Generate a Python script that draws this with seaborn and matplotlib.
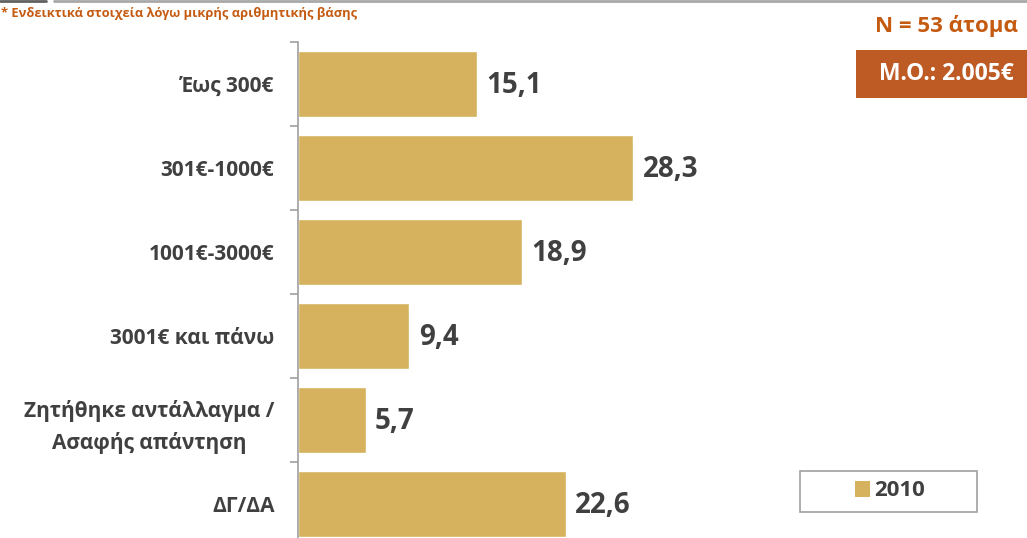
import matplotlib
matplotlib.use("Agg")
import matplotlib.pyplot as plt
import seaborn as sns
import pandas as pd
from matplotlib.patches import Rectangle
from matplotlib.lines import Line2D

categories = ["Έως 300€", "301€-1000€", "1001€-3000€", "3001€ και πάνω",
              "Ζητήθηκε αντάλλαγμα /\nΑσαφής απάντηση", "ΔΓ/ΔΑ"]
values = [15.1, 28.3, 18.9, 9.4, 5.7, 22.6]
value_labels = ["15,1", "28,3", "18,9", "9,4", "5,7", "22,6"]
series_name = "2010"
note_text = "* Ενδεικτικά στοιχεία λόγω μικρής αριθμητικής βάσης"
n_text = "N = 53 άτομα"
mean_text = "Μ.Ο.: 2.005€"

BAR = "#D6B25E"
TEXT = "#404040"
ORANGE = "#C55A11"
BOX = "#BE5B24"

sns.set_theme(style="white")
plt.rcParams["font.family"] = ["Open Sans", "DejaVu Sans"]

df = pd.DataFrame({"cat": categories, "val": values})

fig = plt.figure(figsize=(10.27, 5.38), dpi=100)
ax = fig.add_axes([298 / 1027, -8 / 538, 1 - 298 / 1027, 504 / 538])

sns.barplot(data=df, y="cat", x="val", color=BAR, orient="h",
            width=0.78, saturation=1, ax=ax)

ax.set_xlim(0, 61.5)
ax.set_ylim(len(categories) - 0.5, -0.5)
ax.set_xlabel("")
ax.set_ylabel("")
ax.set_xticks([])
for s in ["top", "right", "bottom"]:
    ax.spines[s].set_visible(False)
ax.spines["left"].set_color("#A0A0A0")
ax.spines["left"].set_linewidth(1.2)

# category separators as ticks on the value axis
ax.set_yticks([i - 0.5 for i in range(len(categories) + 1)], minor=True)
ax.set_yticks(range(len(categories)))
ax.set_yticklabels(categories, fontsize=15, fontweight="bold", color=TEXT,
                   linespacing=1.55, multialignment="center")
ax.tick_params(axis="y", which="major", length=0, pad=17)
ax.tick_params(axis="y", which="minor", length=6, width=1.2,
               color="#A0A0A0", left=True)

for i, (v, lab) in enumerate(zip(values, value_labels)):
    ax.text(v + 0.8, i + 0.02, lab, va="center", ha="left", fontsize=20,
            fontweight="bold", color=TEXT)

# header note and sample size
fig.text(1 / 1027, 1 - 14 / 538, note_text, fontsize=9.3, fontweight="bold",
         color=ORANGE, va="center", ha="left")
fig.text(946 / 1027, 1 - 26 / 538, n_text, fontsize=16, fontweight="bold",
         color=ORANGE, va="center", ha="center")
fig.patches.append(Rectangle((856 / 1027, 1 - 98 / 538), 171 / 1027, 48 / 538,
                             transform=fig.transFigure, facecolor=BOX,
                             edgecolor="none"))
fig.text(946 / 1027, 1 - 74 / 538, mean_text, fontsize=16.5, fontweight="bold",
         color="white", va="center", ha="center")

# top rule
fig.lines.append(Line2D([0, 46 / 1027], [1 - 1 / 538] * 2, transform=fig.transFigure,
                        color="#606060", linewidth=2))
fig.lines.append(Line2D([54 / 1027, 1], [1 - 1 / 538] * 2, transform=fig.transFigure,
                        color="#A8A8A8", linewidth=2))

# legend inside its own frame
fig.patches.append(Rectangle((800 / 1027, 1 - 512 / 538), 177 / 1027, 41 / 538,
                             transform=fig.transFigure, facecolor="white",
                             edgecolor="#A0A0A0", linewidth=1.2))
handle = Rectangle((0, 0), 1, 1, facecolor=BAR, edgecolor="none")
leg = fig.legend([handle], [series_name], loc="center",
                 bbox_to_anchor=(890 / 1027, 1 - 491 / 538),
                 frameon=False, handlelength=0.7, handleheight=0.7,
                 handletextpad=0.2, borderpad=0.2,
                 prop={"weight": "bold", "size": 16})
for t in leg.get_texts():
    t.set_color(TEXT)

fig.savefig("out.png", dpi=100)
